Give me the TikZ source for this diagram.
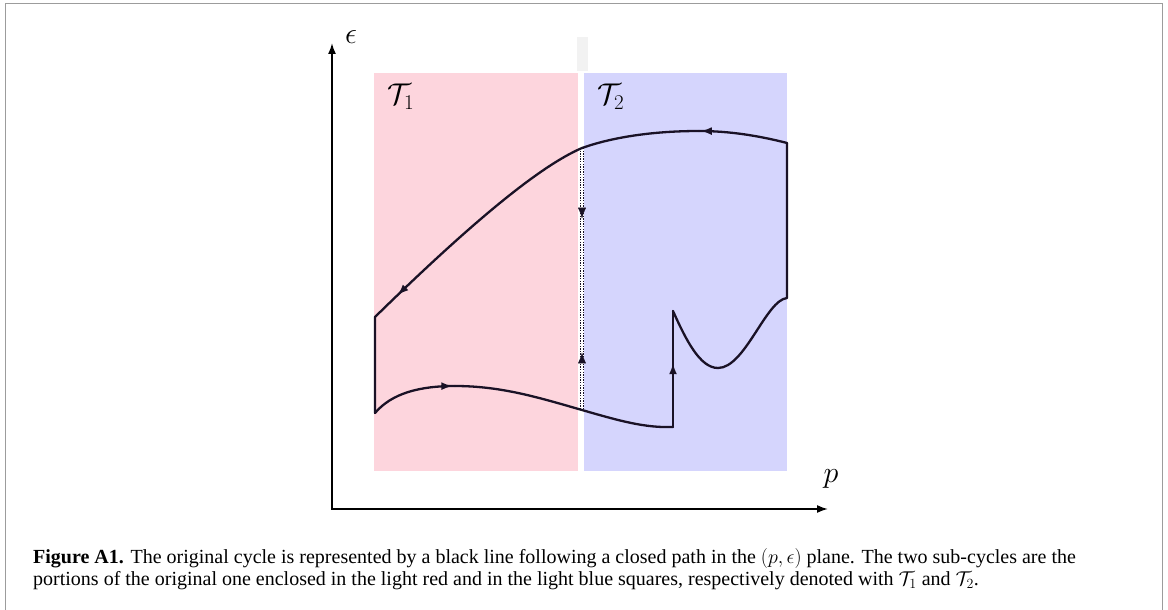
\RequirePackage{fix-cm}
\documentclass[tikz,border=0pt]{standalone}
\usepackage{amsmath}
\usepackage{fontspec}
\newfontfamily\capfont{Liberation Serif}
\usetikzlibrary{arrows.meta,decorations.markings}
\definecolor{FrameGray} {HTML}{9C9C9C}
\definecolor{RegionRed} {HTML}{FDD5DD}
\definecolor{RegionBlue}{HTML}{D5D5FD}
\definecolor{GapShade}  {HTML}{F2F2F2}
\definecolor{CycleInk}  {HTML}{1A1226}
\tikzset{
  region/.style={fill=#1,draw=none},
  axis/.style={{Latex[length=11pt,width=8pt]}-{Latex[length=11pt,width=8pt]},
               line width=1.7pt,color=black},
  cycle/.style={line width=2.3pt,draw=CycleInk,line cap=round,line join=round},
  flow/.style={postaction={decorate},
               decoration={markings,mark=at position #1 with
                 {\arrow[CycleInk]{Latex[length=11pt,width=8pt]}}}},
  split/.style={dash pattern=on 1.4pt off 1.2pt,line width=1.4pt,draw=CycleInk},
  mlabel/.style={inner sep=0pt,font=\fontsize{30}{34}\selectfont},
  caption/.style={inner sep=0pt,anchor=base west,
                  font=\capfont\fontsize{20}{22}\selectfont},
}

\begin{document}
\begin{tikzpicture}[x=1pt,y=-1pt]

  \useasboundingbox (0,0) rectangle (1168,610);
  \draw[FrameGray,line width=1.8pt] (5.5,620) -- (5.5,3.5) -- (1162.5,3.5) -- (1162.5,620);

  % sub-cycle regions
  \fill[region=RegionRed]  (374,73) rectangle (578,471);
  \fill[region=RegionBlue] (584,73) rectangle (787,471);
  \fill[region=GapShade]   (577,37) rectangle (588,71);

  \node[mlabel] (tOne) at (401,97) {$\mathcal{T}_1$};
  \node[mlabel] (tTwo) at (611,97) {$\mathcal{T}_2$};

  % axes
  \draw[axis] (332,43) -- (332,509) -- (828,509);
  \node[mlabel] (epsLabel) at (351,37) {$\epsilon$};
  \node[mlabel] (pLabel) at (831,479) {$p$};

  % cycle
  \coordinate (A) at (375,413);
  \coordinate (B) at (375,317);
  \coordinate (C) at (582,148);
  \coordinate (D) at (699,131);
  \coordinate (E) at (787,143);
  \coordinate (F) at (787,298);
  \coordinate (G) at (718,368);
  \coordinate (H) at (673,311);
  \coordinate (I) at (673,427);
  \coordinate (J) at (582,410);
  \coordinate (K) at (455,386);

  \draw[cycle,flow=0.97] (A) .. controls (392,393) and (420,386) .. (K);
  \draw[cycle] (K) .. controls (502,386) and (540,398) .. (J)
                   .. controls (620,421) and (645,428) .. (I);
  \draw[cycle,flow=0.55] (I) -- (H);
  \draw[cycle] (H) .. controls (686,340) and (700,368) .. (G)
                   .. controls (745,368) and (766,300) .. (F) -- (E);
  \draw[cycle,flow=0.98] (E) .. controls (760,136) and (730,131) .. (D);
  \draw[cycle] (D) .. controls (650,131) and (610,138) .. (C);
  \draw[cycle,flow=0.65] (C) .. controls (540,166) and (472,222) .. (B) -- (A);

  % splitting line
  \draw[split] ([xshift=-1.5pt]C) -- ([xshift=-1.5pt]J);
  \draw[split] ([xshift=1.5pt]C) -- ([xshift=1.5pt]J);
  \path[flow=0.27] (C) -- (J);
  \path[flow=0.22] (J) -- (C);

  % caption
  \node[caption] (capFirst) at (33,563)
    {\textbf{Figure A1.} The original cycle is represented by a black line following a closed path in the $(p,\epsilon)$ plane. The two sub-cycles are the};
  \node[caption] (capSecond) at (33,585)
    {portions of the original one enclosed in the light red and in the light blue squares, respectively denoted with $\mathcal{T}_1$ and $\mathcal{T}_2$.};

\end{tikzpicture}
\end{document}
